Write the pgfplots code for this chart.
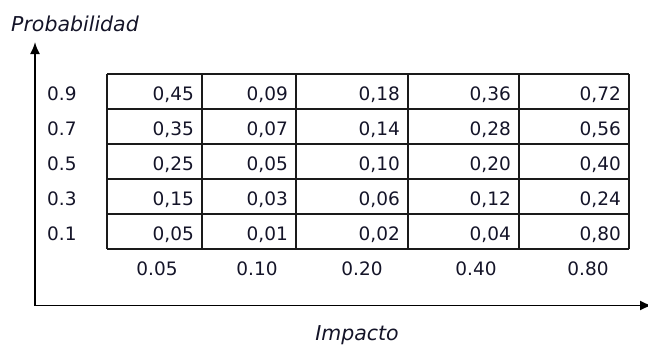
\documentclass[border=0pt]{standalone}
\usepackage{pgfplots}
\pgfplotsset{compat=1.18}
\usepackage{pgfplotstable}
\usepackage{fontspec}
\setmainfont{DejaVu Sans}
\usetikzlibrary{arrows.meta}
\definecolor{txt}{HTML}{141428}
\definecolor{grd}{HTML}{1A1A1A}

% cell values: x = right edge of cell text, y = baseline (px from top)
\pgfplotstableread{
x y lab
194 100.7 0,45
288 100.7 0,09
400 100.7 0,18
511 100.7 0,36
621 100.7 0,72
194 135.7 0,35
288 135.7 0,07
400 135.7 0,14
511 135.7 0,28
621 135.7 0,56
194 170.7 0,25
288 170.7 0,05
400 170.7 0,10
511 170.7 0,20
621 170.7 0,40
194 205.7 0,15
288 205.7 0,03
400 205.7 0,06
511 205.7 0,12
621 205.7 0,24
194 240.7 0,05
288 240.7 0,01
400 240.7 0,02
511 240.7 0,04
621 240.7 0,80
}\cells

\pgfplotstableread{
x y lab
47 100.7 0.9
47 135.7 0.7
47 170.7 0.5
47 205.7 0.3
47 240.7 0.1
}\rowlabels

\pgfplotstableread{
x y lab
157 275.7 0.05
257 275.7 0.10
362 275.7 0.20
476 275.7 0.40
588 275.7 0.80
}\collabels

\begin{document}
\begin{tikzpicture}
\begin{axis}[
  hide axis, scale only axis,
  width=648pt, height=344pt,
  xmin=0, xmax=648, ymin=0, ymax=344,
  y dir=reverse, clip=false,
]
% bounding box
\addplot[draw=none, mark=none] coordinates {(0,0) (648,344)};
% grid of the table
\addplot[grd, line width=2pt, mark=none] coordinates {(107,74) (629,74)};
\addplot[grd, line width=2pt, mark=none] coordinates {(107,109) (629,109)};
\addplot[grd, line width=2pt, mark=none] coordinates {(107,144) (629,144)};
\addplot[grd, line width=2pt, mark=none] coordinates {(107,179) (629,179)};
\addplot[grd, line width=2pt, mark=none] coordinates {(107,214) (629,214)};
\addplot[grd, line width=2pt, mark=none] coordinates {(107,249) (629,249)};
\addplot[grd, line width=2pt, mark=none] coordinates {(107,74) (107,249)};
\addplot[grd, line width=2pt, mark=none] coordinates {(202,74) (202,249)};
\addplot[grd, line width=2pt, mark=none] coordinates {(296,74) (296,249)};
\addplot[grd, line width=2pt, mark=none] coordinates {(408,74) (408,249)};
\addplot[grd, line width=2pt, mark=none] coordinates {(519,74) (519,249)};
\addplot[grd, line width=2pt, mark=none] coordinates {(629,74) (629,249)};
% axes with arrows
\addplot[overlay, black, line width=1.8pt, mark=none, {Latex[length=12pt,width=10pt]}-{Latex[length=12pt,width=10pt]}]
  coordinates {(35,42) (35,305.5) (652,305.5)};
% cell values
\addplot[only marks, mark=none, nodes near coords, point meta=explicit symbolic,
  nodes near coords align={anchor=base east},
  every node near coord/.append style={inner sep=0pt, text=txt, font=\fontsize{18.5}{20}\selectfont}]
  table[x=x, y=y, meta=lab] {\cells};
% row labels
\addplot[only marks, mark=none, nodes near coords, point meta=explicit symbolic,
  nodes near coords align={anchor=base west},
  every node near coord/.append style={inner sep=0pt, text=txt, font=\fontsize{18.5}{20}\selectfont}]
  table[x=x, y=y, meta=lab] {\rowlabels};
% column labels
\addplot[only marks, mark=none, nodes near coords, point meta=explicit symbolic,
  nodes near coords align={anchor=base},
  every node near coord/.append style={inner sep=0pt, text=txt, font=\fontsize{18.5}{20}\selectfont}]
  table[x=x, y=y, meta=lab] {\collabels};
% axis titles
\node[anchor=base west, inner sep=0pt, text=txt, font=\fontsize{20.5}{22}\selectfont\itshape] at (axis cs:11,31.7) {Probabilidad};
\node[anchor=base, inner sep=0pt, text=txt, font=\fontsize{20.5}{22}\selectfont\itshape] at (axis cs:357,340) {Impacto};
\end{axis}
\end{tikzpicture}
\end{document}
